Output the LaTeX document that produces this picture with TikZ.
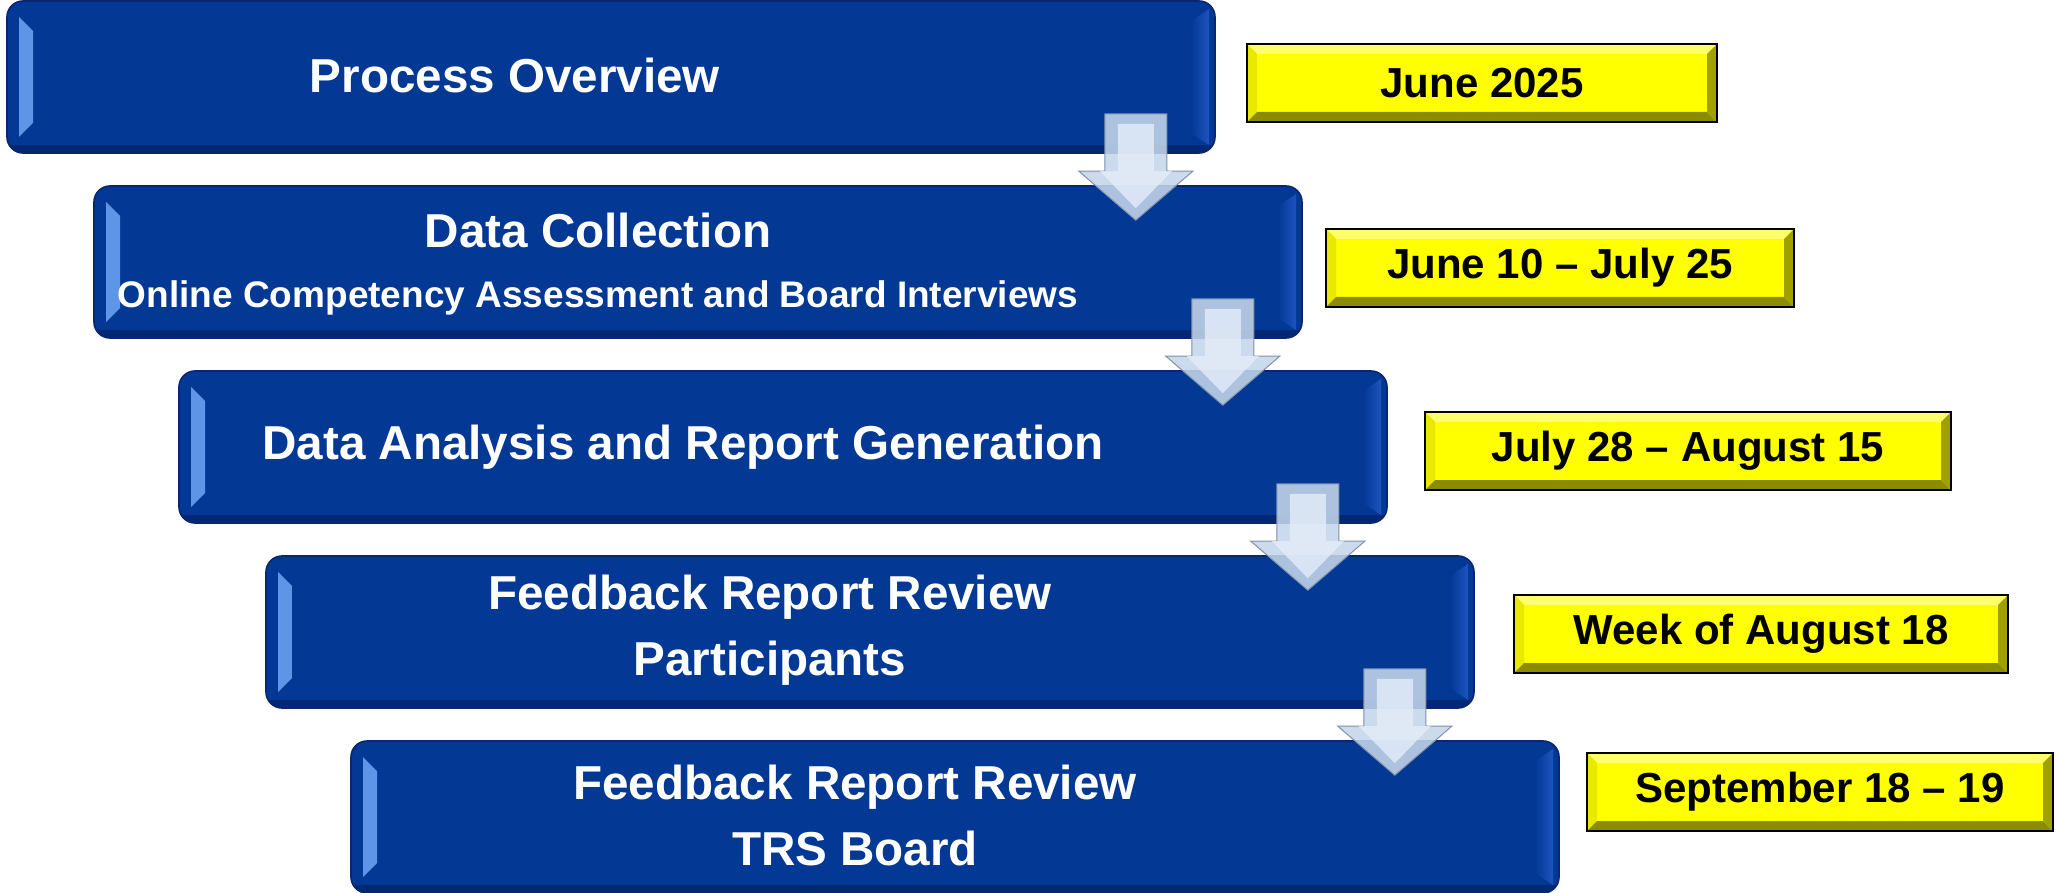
\documentclass[tikz,border=0pt]{standalone}
\usepackage{fontspec}
\setmainfont{Liberation Sans}
\usetikzlibrary{calc}

\definecolor{stepblue}{RGB}{3,56,148}
\definecolor{stepedge}{RGB}{10,38,110}
\definecolor{stepglow}{RGB}{96,150,232}
\definecolor{stepside}{RGB}{30,84,190}
\definecolor{stepdark}{RGB}{2,40,115}
\definecolor{datefill}{RGB}{255,255,0}
\definecolor{datetop}{RGB}{255,255,110}
\definecolor{dateleft}{RGB}{232,232,0}
\definecolor{datebottom}{RGB}{140,140,0}
\definecolor{dateright}{RGB}{160,160,0}
\definecolor{arrowface}{RGB}{196,214,234}
\definecolor{arrowlight}{RGB}{228,237,248}
\definecolor{arrowline}{RGB}{128,145,168}

\tikzset{
  stepbox/.style={rounded corners=8pt, draw=stepedge, line width=0.8pt, fill=stepblue,
    minimum width=604pt, minimum height=76pt, inner sep=0pt,
    path picture={
      % bright bevel on the left edge
      \fill[sharp corners, left color=stepglow, right color=stepside]
        ($(path picture bounding box.north west)+(6pt,-8pt)$) --
        ($(path picture bounding box.north west)+(13pt,-15pt)$) --
        ($(path picture bounding box.south west)+(13pt,15pt)$) --
        ($(path picture bounding box.south west)+(6pt,8pt)$) -- cycle;
      % softer bevel on the right edge
      \fill[sharp corners, left color=stepblue, right color=stepside]
        ($(path picture bounding box.north east)+(-12pt,-10pt)$) --
        ($(path picture bounding box.north east)+(-3pt,-4pt)$) --
        ($(path picture bounding box.south east)+(-3pt,4pt)$) --
        ($(path picture bounding box.south east)+(-12pt,10pt)$) -- cycle;
      % dark rim along the bottom
      \fill[sharp corners, stepdark]
        ($(path picture bounding box.south west)+(0pt,0pt)$) rectangle
        ($(path picture bounding box.south east)+(0pt,4pt)$);
    }},
  steptext/.style={text=white, font=\bfseries\fontsize{23.8}{33}\selectfont, align=center, inner sep=0pt},
  datebox/.style={draw=black, line width=1pt, fill=datefill, inner sep=0pt,
    minimum height=39pt, font=\bfseries\fontsize{21}{25}\selectfont,
    path picture={
      \fill[datetop] (path picture bounding box.north west) -- (path picture bounding box.north east)
        -- ($(path picture bounding box.north east)+(-5pt,-5pt)$) -- ($(path picture bounding box.north west)+(5pt,-5pt)$) -- cycle;
      \fill[dateleft] (path picture bounding box.north west) -- (path picture bounding box.south west)
        -- ($(path picture bounding box.south west)+(5pt,5pt)$) -- ($(path picture bounding box.north west)+(5pt,-5pt)$) -- cycle;
      \fill[datebottom] (path picture bounding box.south west) -- (path picture bounding box.south east)
        -- ($(path picture bounding box.south east)+(-5pt,5pt)$) -- ($(path picture bounding box.south west)+(5pt,5pt)$) -- cycle;
      \fill[dateright] (path picture bounding box.north east) -- (path picture bounding box.south east)
        -- ($(path picture bounding box.south east)+(-5pt,5pt)$) -- ($(path picture bounding box.north east)+(-5pt,-5pt)$) -- cycle;
    }},
  flowarrow/.style={fill=arrowface, fill opacity=0.88, draw=arrowline, line width=0.5pt, line join=miter},
  flowpanel/.style={fill=arrowlight, fill opacity=0.8}
}

\begin{document}
\begin{tikzpicture}[x=0.5pt,y=-0.5pt]
  \useasboundingbox (0,0) rectangle (2056,893);

  % process steps
  \node[stepbox] (b1) at (611,77) {};
  \node[stepbox] (b2) at (698,262) {};
  \node[stepbox] (b3) at (783,447) {};
  \node[stepbox] (b4) at (870,632) {};
  \node[stepbox] (b5) at (955,817) {};

  \node[steptext] (t1) at ($(b1.center)+(-48pt,1pt)$) {Process Overview};
  \node[steptext] (t2) at ($(b2.center)+(-50pt,-1pt)$) {Data Collection\\[-3pt]
    {\fontsize{18.5}{22}\selectfont Online Competency Assessment and Board Interviews}};
  \node[steptext] (t3) at ($(b3.center)+(-50pt,0pt)$) {Data Analysis and Report Generation};
  \node[steptext] (t4) at ($(b4.center)+(-50pt,1pt)$) {Feedback Report Review\\Participants};
  \node[steptext] (t5) at ($(b5.center)+(-50pt,1pt)$) {Feedback Report Review\\TRS Board};

  % dates
  \node[datebox, minimum width=235pt] (d1) at (1482,83) {June 2025};
  \node[datebox, minimum width=234pt] (d2) at (1560,268) {June 10 -- July 25};
  \node[datebox, minimum width=263pt] (d3) at (1688,451) {July 28 -- August 15};
  \node[datebox, minimum width=247pt] (d4) at (1761,634) {Week of August 18};
  \node[datebox, minimum width=233pt] (d5) at (1820,792) {September 18 -- 19};

  % arrows between the steps
  \foreach \i/\j in {1/2,2/3,3/4,4/5}{
    \path let \p1=(b\i.south east), \p2=(b\j.north) in
      coordinate (top\i) at (\x1-40pt,\y1+20pt)
      coordinate (neck\i) at (\x1-40pt,\y2+7pt)
      coordinate (tip\i) at (\x1-40pt,\y2-17.5pt);
    \draw[flowarrow] ($(top\i)+(-15.5pt,0)$) -- ($(neck\i)+(-15.5pt,0)$) -- ($(neck\i)+(-28.5pt,0)$)
      -- (tip\i) -- ($(neck\i)+(28.5pt,0)$) -- ($(neck\i)+(15.5pt,0)$) -- ($(top\i)+(15.5pt,0)$) -- cycle;
    \fill[flowpanel] ($(top\i)+(-9pt,-5pt)$) -- ($(neck\i)+(-9pt,0)$) -- ($(neck\i)+(-18pt,0)$)
      -- ($(tip\i)+(0,6pt)$) -- ($(neck\i)+(18pt,0)$) -- ($(neck\i)+(9pt,0)$) -- ($(top\i)+(9pt,-5pt)$) -- cycle;
  }
\end{tikzpicture}
\end{document}
